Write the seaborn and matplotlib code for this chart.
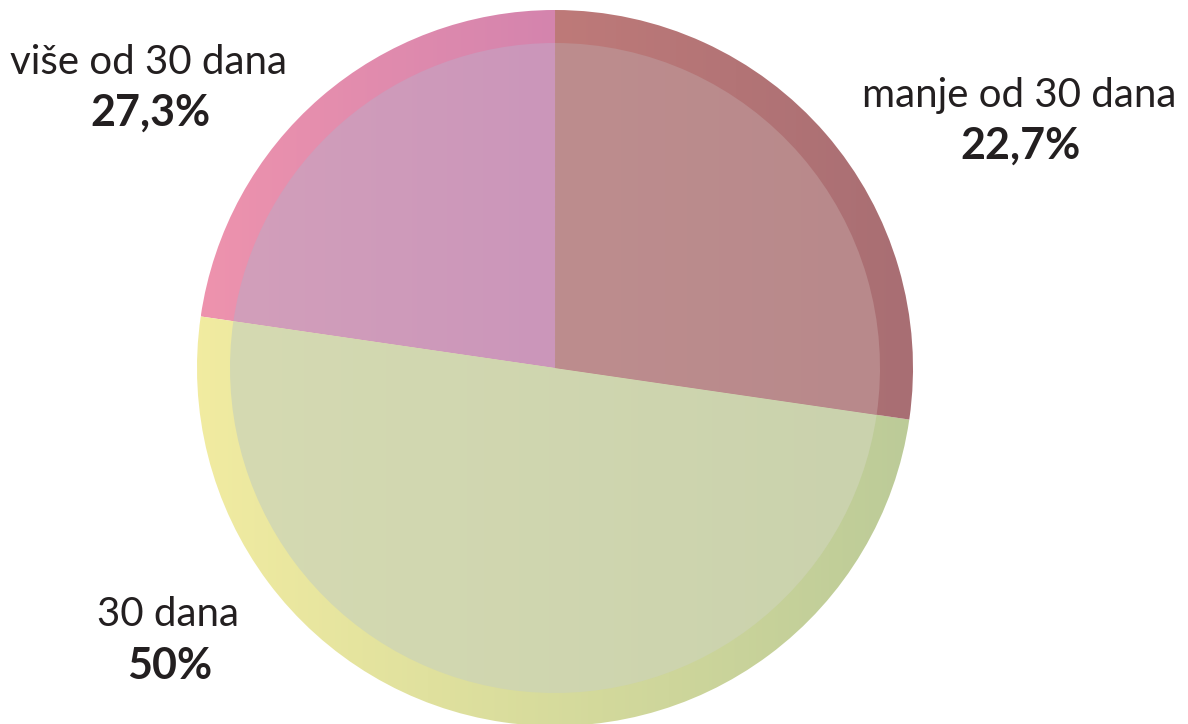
import numpy as np
import matplotlib
matplotlib.use("Agg")
import matplotlib.pyplot as plt
import seaborn as sns

# Data (wedges run counter-clockwise from the top, as in the reference)
categories = ["manje od 30 dana", "30 dana", "više od 30 dana"]
shares = [22.7, 50.0, 27.3]

# labels as printed in the reference (placed next to the pie)
label_names = ["više od 30 dana", "manje od 30 dana", "30 dana"]
label_pcts = ["27,3%", "22,7%", "50%"]

# horizontal gradients (left -> right) for ring and inner disc
ring_colors = [("#ee93ad", "#d484ae"), ("#f2eca1", "#bccb98"), ("#be7a79", "#a86e73")]
disc_colors = [("#d29fbb", "#cb96ba"), ("#d5dab2", "#cad2ad"), ("#bd8d8e", "#b8898b")]

sns.set_theme(style="white")
plt.rcParams['font.family'] = ['Lato', 'DejaVu Sans']

W, H = 1188, 724
fig = plt.figure(figsize=(W / 100, H / 100), dpi=100)
ax = fig.add_axes([0, 0, 1, 1])

cx, cy = 555, H - 368
R_out, R_in = 358, 325


def gradient_wedges(wedges, palette_pairs, radius, z):
    for w, (c0, c1) in zip(wedges, palette_pairs):
        verts = w.get_path().vertices
        x0, x1 = verts[:, 0].min(), verts[:, 0].max()
        cmap = sns.blend_palette([c0, c1], n_colors=256, as_cmap=True)
        grad = np.linspace(0, 1, 256).reshape(1, -1)
        im = ax.imshow(grad, cmap=cmap, aspect="auto", zorder=z, interpolation="bilinear",
                       extent=[x0, x1, cy - radius - 2, cy + radius + 2])
        im.set_clip_path(w)
        w.set_facecolor("none")
        w.set_zorder(z + 0.5)


outer, _ = ax.pie(shares, startangle=90, counterclock=True, radius=R_out,
                  center=(cx, cy), wedgeprops=dict(linewidth=0), frame=True)
gradient_wedges(outer, ring_colors, R_out, 1)

inner, _ = ax.pie(shares, startangle=90, counterclock=True, radius=R_in,
                  center=(cx, cy), wedgeprops=dict(linewidth=0), frame=True)
gradient_wedges(inner, disc_colors, R_in, 3)

# labels
label_pos = [(148, 62), (1019, 95), (168, 615)]
for name, pct, (lx, ly) in zip(label_names, label_pcts, label_pos):
    ax.text(lx, H - ly, name, ha="center", va="center", fontsize=29, color="#231f20")
    ax.text(lx + 2, H - ly - 51, pct, ha="center", va="center", fontsize=31,
            fontweight="bold", color="#231f20")

ax.set_xlim(0, W)
ax.set_ylim(0, H)
ax.set_aspect("equal")
ax.axis("off")

fig.savefig("out.png", dpi=100)
